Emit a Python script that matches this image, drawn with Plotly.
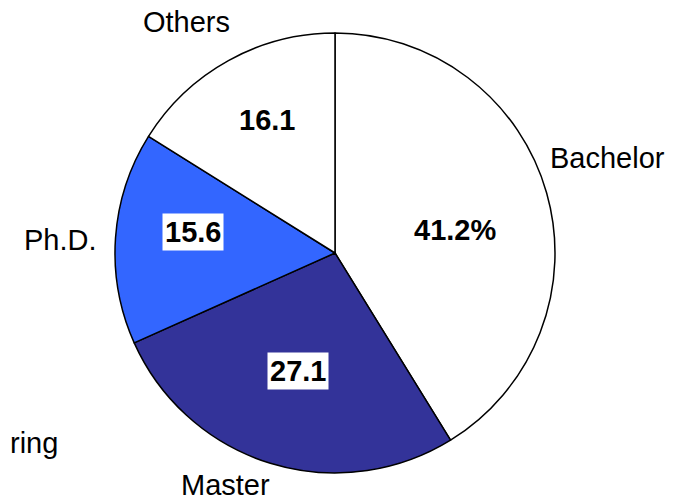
import plotly.graph_objects as go

# ---- data ----
categories = ["Bachelor", "Master", "Ph.D.", "Others"]
values = [41.2, 27.1, 15.6, 16.1]
value_labels = ["41.2%", "27.1", "15.6", "16.1"]
colors = ["#FFFFFF", "#333399", "#3366FF", "#FFFFFF"]

# ---- layout constants (screen pixels in a 682x498 window) ----
W, H = 682, 498
OFF = 8  # page body margin
CX, CY, R = 335, 253, 220
name_pos = [(607, 158), (225, 485), (60, 240), (186, 22)]
value_pos = [(455, 230), (298, 371), (193, 232), (267, 120)]
FONT = "Liberation Sans, Arial, sans-serif"
FS = 29


def px2paper(px, py):
    return (px - OFF) / W, 1 - (py - OFF) / H


x0, y0 = px2paper(CX - R, CY + R)
x1, y1 = px2paper(CX + R, CY - R)

fig = go.Figure(go.Pie(
    labels=categories,
    values=values,
    sort=False,
    direction="clockwise",
    rotation=0,
    textinfo="none",
    hoverinfo="label+value",
    marker=dict(colors=colors, line=dict(color="black", width=1.5)),
    domain=dict(x=[x0, x1], y=[y0, y1]),
    showlegend=False,
))

annotations = []
for name, (px, py) in zip(categories, name_pos):
    ax, ay = px2paper(px, py)
    annotations.append(dict(
        x=ax, y=ay, xref="paper", yref="paper",
        text=name, showarrow=False, xanchor="center", yanchor="middle",
        font=dict(family=FONT, size=FS, color="black")))
for txt, (px, py) in zip(value_labels, value_pos):
    ax, ay = px2paper(px, py)
    annotations.append(dict(
        x=ax, y=ay, xref="paper", yref="paper",
        text="<b>" + txt + "</b>", showarrow=False, xanchor="center", yanchor="middle",
        bgcolor="white", borderpad=2,
        font=dict(family=FONT, size=FS, color="black")))
# partially visible text at the left edge
annotations.append(dict(
    x=0, y=px2paper(0, 443)[1], xref="paper", yref="paper",
    text="ring", showarrow=False, xanchor="left", yanchor="middle",
    font=dict(family=FONT, size=FS, color="black")))

fig.update_layout(
    width=W, height=H,
    margin=dict(l=0, r=0, t=0, b=0),
    paper_bgcolor="white", plot_bgcolor="white",
    annotations=annotations,
)

fig.write_html("out.html")
